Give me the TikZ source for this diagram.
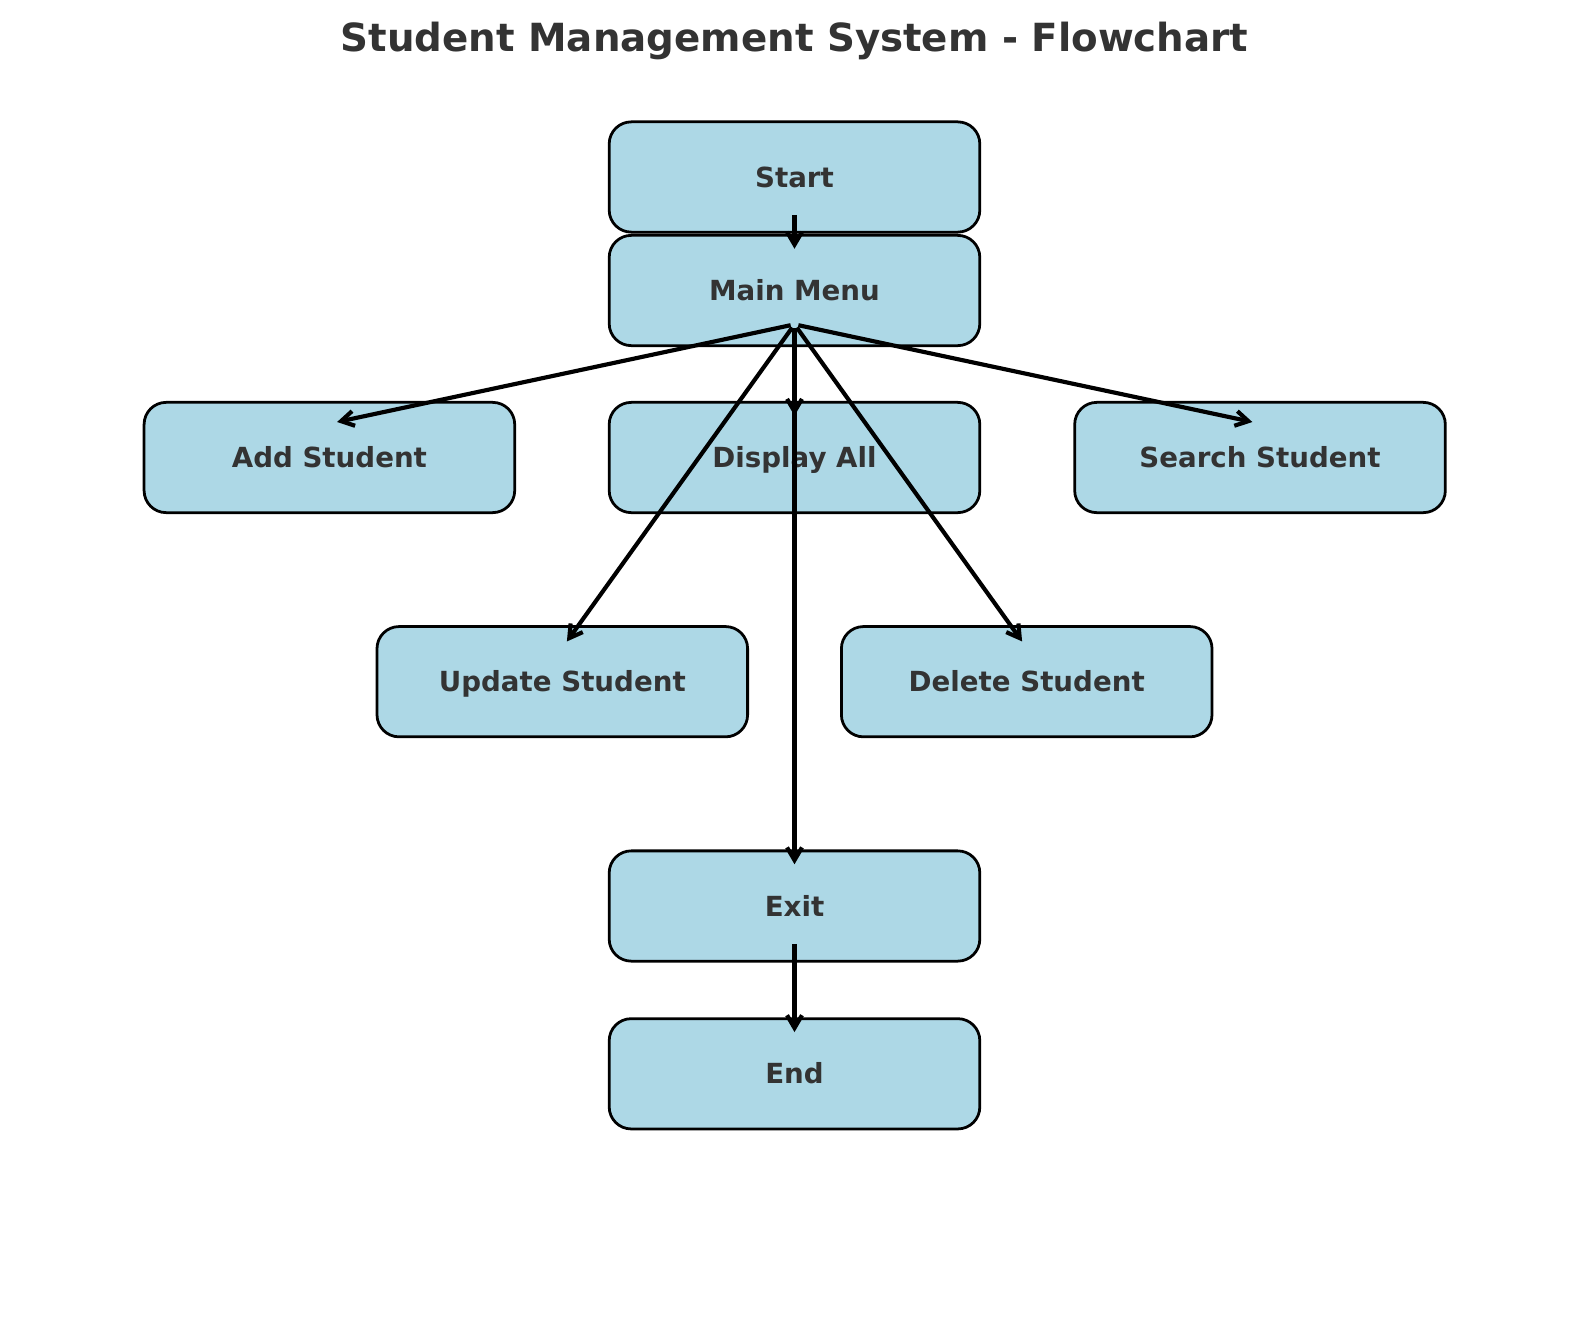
\documentclass[tikz,border=0pt]{standalone}
\usepackage{fontspec}
\setmainfont{DejaVu Sans}
\usetikzlibrary{arrows.meta}
\definecolor{boxblue}{HTML}{ADD8E6}
\definecolor{txtgray}{HTML}{333333}
\tikzset{
  box/.style={draw=black, line width=1pt, fill=boxblue, rounded corners=0.28cm,
    minimum width=4.705cm, minimum height=1.4cm, inner sep=0pt,
    text height=0.73em, text depth=0pt,
    text=txtgray, font=\bfseries\fontsize{10}{12}\selectfont},
  arr/.style={line width=1.5pt, -{Straight Barb[length=4.6pt,width=5.4pt]},
    shorten >=0.1cm, shorten <=0.05cm},
}
\begin{document}
\begin{tikzpicture}[x=0.0127cm, y=-0.0127cm]
    \useasboundingbox (0,0) rectangle (1589,1318);
    \node[text=txtgray, font=\bfseries\fontsize{14}{17}\selectfont] (title) at (794.5,41) {Student Management System - Flowchart};
    \node[box] (start) at (794.5,177) {Start};
    \node[box] (menu) at (794.5,290.5) {Main Menu};
    \node[box] (add) at (329.4,457.5) {Add Student};
    \node[box] (disp) at (794.5,457.5) {Display All};
    \node[box] (search) at (1260,457.5) {Search Student};
    \node[box] (upd) at (562.3,681.7) {Update Student};
    \node[box] (del) at (1026.7,681.7) {Delete Student};
    \node[box] (exit) at (794.5,906) {Exit};
    \node[box] (fin) at (794.5,1073.8) {End};
    \draw[arr] ([yshift=-0.43cm]start.center) to ([yshift=0.43cm]menu.center);
    \draw[arr] ([yshift=-0.43cm]menu.center) to ([yshift=0.43cm]add.center);
    \draw[arr] ([yshift=-0.43cm]menu.center) to ([yshift=0.43cm]disp.center);
    \draw[arr] ([yshift=-0.43cm]menu.center) to ([yshift=0.43cm]search.center);
    \draw[arr] ([yshift=-0.43cm]menu.center) to ([yshift=0.43cm]upd.center);
    \draw[arr] ([yshift=-0.43cm]menu.center) to ([yshift=0.43cm]del.center);
    \draw[arr] ([yshift=-0.43cm]menu.center) to ([yshift=0.43cm]exit.center);
    \draw[arr] ([yshift=-0.43cm]exit.center) to ([yshift=0.43cm]fin.center);
\end{tikzpicture}
\end{document}
